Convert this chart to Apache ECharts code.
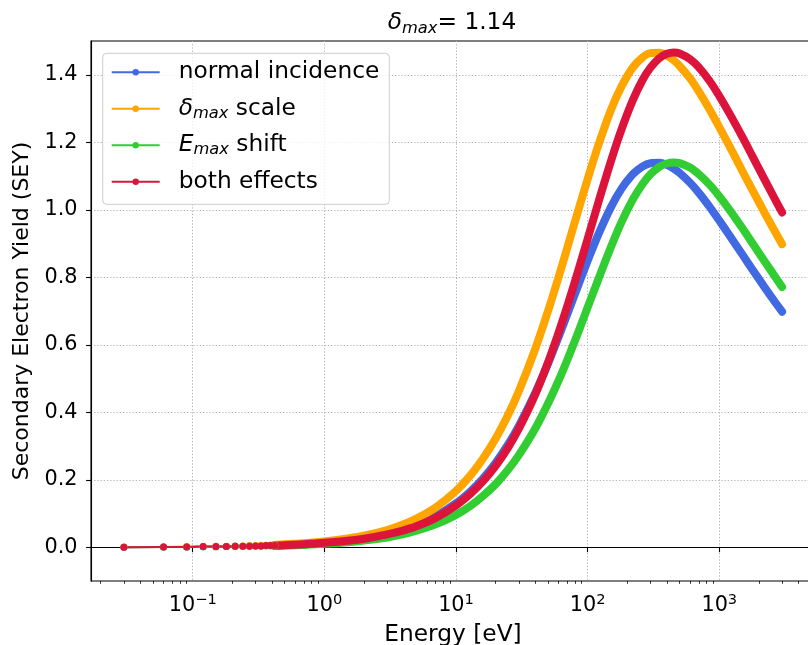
<!DOCTYPE html>
<html><head><meta charset="utf-8">
<script src="https://cdn.jsdelivr.net/npm/echarts@6/dist/echarts.min.js"></script>
<style>html,body{margin:0;padding:0;background:#fff}#c{width:808px;height:645px}</style>
</head><body><div id="c"></div>
<script>
// ---------------- data ----------------
const seriesNames = ['normal incidence', 'δmax scale', 'Emax shift', 'both effects'];
const seriesColors = ['#4169E1', '#FFA500', '#32CD32', '#DC143C'];

// first, sparse points at low energy (drawn as separate dots)
const lowEnergy = [0.03, 0.06, 0.09, 0.12, 0.15, 0.18, 0.21, 0.24, 0.27, 0.30, 0.33, 0.36, 0.39, 0.42];
const lowNormal = [0.000, 0.001, 0.001, 0.002, 0.002, 0.002, 0.003, 0.003, 0.004, 0.004, 0.004, 0.005, 0.005, 0.006];
const lowDmax   = [0.001, 0.001, 0.002, 0.002, 0.003, 0.003, 0.004, 0.004, 0.005, 0.005, 0.006, 0.006, 0.007, 0.007];
const lowEmax   = [0.000, 0.001, 0.001, 0.001, 0.001, 0.002, 0.002, 0.002, 0.003, 0.003, 0.003, 0.004, 0.004, 0.004];
const lowBoth   = [0.000, 0.001, 0.001, 0.002, 0.002, 0.002, 0.003, 0.003, 0.003, 0.004, 0.004, 0.005, 0.005, 0.005];

// dense part (markers merge into a thick band)
const energy = [0.42, 0.5, 0.7, 1, 1.5, 2, 3, 4, 5, 7, 10, 13, 16, 20, 25, 30, 40, 50, 60, 70, 85, 100, 120, 150, 180, 220, 260, 300, 350, 400, 450, 500, 600, 700, 850, 1000, 1200, 1500, 1800, 2200, 2600, 3000];
const seyNormal = [0.006, 0.007, 0.009, 0.013, 0.020, 0.027, 0.040, 0.053, 0.066, 0.092, 0.130, 0.167, 0.203, 0.250, 0.306, 0.359, 0.457, 0.544, 0.622, 0.690, 0.777, 0.849, 0.925, 1.007, 1.061, 1.105, 1.128, 1.138, 1.139, 1.133, 1.122, 1.109, 1.080, 1.050, 1.007, 0.968, 0.923, 0.867, 0.821, 0.771, 0.731, 0.698];
const seyDmax   = [0.007, 0.009, 0.012, 0.017, 0.026, 0.034, 0.051, 0.068, 0.085, 0.118, 0.167, 0.215, 0.262, 0.322, 0.394, 0.462, 0.588, 0.700, 0.799, 0.887, 0.999, 1.091, 1.189, 1.295, 1.364, 1.421, 1.451, 1.464, 1.465, 1.457, 1.443, 1.426, 1.389, 1.350, 1.295, 1.245, 1.187, 1.114, 1.056, 0.992, 0.941, 0.898];
const seyEmax   = [0.004, 0.005, 0.007, 0.010, 0.015, 0.020, 0.029, 0.039, 0.049, 0.068, 0.096, 0.124, 0.152, 0.187, 0.231, 0.273, 0.352, 0.426, 0.493, 0.555, 0.638, 0.711, 0.792, 0.889, 0.962, 1.030, 1.075, 1.105, 1.127, 1.137, 1.140, 1.138, 1.125, 1.105, 1.073, 1.040, 0.999, 0.945, 0.899, 0.848, 0.807, 0.771];
const seyBoth   = [0.005, 0.006, 0.009, 0.013, 0.019, 0.025, 0.038, 0.050, 0.062, 0.087, 0.124, 0.160, 0.195, 0.241, 0.297, 0.351, 0.453, 0.548, 0.635, 0.714, 0.821, 0.914, 1.019, 1.143, 1.236, 1.324, 1.383, 1.421, 1.449, 1.462, 1.466, 1.463, 1.446, 1.422, 1.380, 1.337, 1.284, 1.215, 1.156, 1.091, 1.037, 0.992];

// axes
const xTickValues = [0.1, 1, 10, 100, 1000];
const xTickExponents = ['\u22121', '0', '1', '2', '3'];
const xMinorTicks = [0.02, 0.03, 0.04, 0.05, 0.06, 0.07, 0.08, 0.09, 0.2, 0.3, 0.4, 0.5, 0.6, 0.7, 0.8, 0.9, 2, 3, 4, 5, 6, 7, 8, 9, 20, 30, 40, 50, 60, 70, 80, 90, 200, 300, 400, 500, 600, 700, 800, 900, 2000, 3000, 4000, 5000];
const yTickValues = [0, 0.2, 0.4, 0.6, 0.8, 1.0, 1.2, 1.4];
const yTickLabels = ['0.0', '0.2', '0.4', '0.6', '0.8', '1.0', '1.2', '1.4'];
const titleRich = '{i|δ}{s|max}{n|= 1.14}';
const xAxisName = 'Energy [eV]';
const yAxisName = 'Secondary Electron Yield (SEY)';
const legendRich = {'δmax scale': '{i|δ}{s|max} scale', 'Emax shift': '{i|E}{s|max} shift'};

// ---------------- chart ----------------
const FONT = 'DejaVu Sans';
const FT = 20.8;   // tick labels
const FL = 23.3;   // title, x name, legend
const FY = 22;     // y name
const lowSets = [lowNormal, lowDmax, lowEmax, lowBoth];
const bandSets = [seyNormal, seyDmax, seyEmax, seyBoth];
const series = [];
for (let i = 0; i < 4; i++) {
  series.push({
    name: seriesNames[i], type: 'line', xAxisIndex: 0, yAxisIndex: 0,
    data: lowEnergy.map((e, k) => [e, lowSets[i][k]]),
    symbol: 'circle', symbolSize: 7, showSymbol: true,
    lineStyle: {width: 2, color: seriesColors[i]},
    itemStyle: {color: seriesColors[i]},
    silent: true, animation: false, emphasis: {disabled: true}
  });
  series.push({
    name: seriesNames[i], type: 'line', xAxisIndex: 0, yAxisIndex: 0,
    data: energy.map((e, k) => [e, bandSets[i][k]]),
    symbol: 'none', smooth: 0.3,
    lineStyle: {width: 8, color: seriesColors[i], cap: 'round', join: 'round'},
    itemStyle: {color: seriesColors[i]},
    silent: true, animation: false, emphasis: {disabled: true}
  });
}

const chart = echarts.init(document.getElementById('c'), null, {renderer: 'canvas'});
chart.setOption({
  animation: false,
  backgroundColor: '#fff',
  title: {
    text: titleRich, left: 452, top: 9, textAlign: 'center', padding: 0,
    textStyle: {
      fontFamily: FONT, fontSize: FL, fontWeight: 'normal', color: '#000', lineHeight: 28,
      rich: {
        i: {fontFamily: FONT, fontSize: FL, fontStyle: 'italic', lineHeight: 28, color: '#000'},
        s: {fontFamily: FONT, fontSize: 16.3, fontStyle: 'italic', lineHeight: 16, verticalAlign: 'bottom', color: '#000'},
        n: {fontFamily: FONT, fontSize: FL, lineHeight: 28, color: '#000'}
      }
    }
  },
  legend: {
    data: seriesNames, orient: 'vertical', left: 102.7, top: 53.3,
    padding: [6.5, 10, 10, 8], itemGap: 11.5, itemWidth: 48, itemHeight: 8,
    backgroundColor: 'rgba(255,255,255,0.8)', borderColor: '#cccccc', borderWidth: 1, borderRadius: 4,
    selectedMode: false,
    lineStyle: {width: 2},
    formatter: name => legendRich[name] || name,
    textStyle: {
      fontFamily: FONT, fontSize: FL, color: '#000', lineHeight: 25, padding: [0, 0, 0, 14],
      rich: {
        i: {fontFamily: FONT, fontSize: FL, fontStyle: 'italic', lineHeight: 25, color: '#000'},
        s: {fontFamily: FONT, fontSize: 16.3, fontStyle: 'italic', lineHeight: 13, verticalAlign: 'bottom', color: '#000'}
      }
    }
  },
  grid: {left: 91, top: 41, width: 724, height: 540, show: true, borderColor: '#000', borderWidth: 1.1,
         backgroundColor: 'transparent', containLabel: false, outerBoundsMode: 'none'},
  xAxis: [{
    type: 'log', logBase: 10, min: 0.01687, max: 5335, position: 'bottom',
    axisLine: {show: true, lineStyle: {color: '#000', width: 1.1}},
    axisTick: {show: true, customValues: xTickValues, length: 4.9, inside: false, lineStyle: {color: '#000', width: 1.1}},
    minorTick: {show: false},
    axisLabel: {
      customValues: xTickValues, margin: 12, color: '#000', fontFamily: FONT, fontSize: FT, lineHeight: 25,
      formatter: v => {
        let idx = 0, best = Infinity;
        xTickValues.forEach((t, k) => { const d = Math.abs(Math.log10(t) - Math.log10(v)); if (d < best) { best = d; idx = k; } });
        return '{b|10}{p|' + xTickExponents[idx] + '}';
      },
      rich: {
        b: {fontFamily: FONT, fontSize: FT, lineHeight: 25, color: '#000'},
        p: {fontFamily: FONT, fontSize: 14.6, lineHeight: 16.6, verticalAlign: 'top', color: '#000'}
      }
    },
    splitLine: {show: true, lineStyle: {color: '#b0b0b0', width: 1, type: [1.2, 2]}},
    name: xAxisName, nameLocation: 'middle', nameGap: 42,
    nameTextStyle: {fontFamily: FONT, fontSize: FL, color: '#000'}
  }, {
    type: 'log', logBase: 10, min: 0.01687, max: 5335, position: 'bottom', gridIndex: 0,
    axisLine: {show: false},
    axisTick: {show: true, customValues: xMinorTicks, length: 2.8, inside: false, lineStyle: {color: '#000', width: 0.8}},
    axisLabel: {show: false},
    splitLine: {show: false}
  }],
  yAxis: {
    type: 'value', min: -0.1, max: 1.5, splitNumber: 8,
    axisLine: {show: true, lineStyle: {color: '#000', width: 1.1}},
    axisTick: {show: true, customValues: yTickValues, length: 4.9, inside: false, lineStyle: {color: '#000', width: 1.1}},
    axisLabel: {
      customValues: yTickValues, margin: 13.5, color: '#000', fontFamily: FONT, fontSize: FT,
      formatter: v => { const k = yTickValues.findIndex(t => Math.abs(t - v) < 1e-6); return k >= 0 ? yTickLabels[k] : ''; }
    },
    splitLine: {show: true, lineStyle: {color: '#b0b0b0', width: 1, type: [1.2, 2]}},
    name: yAxisName, nameLocation: 'middle', nameGap: 57, nameRotate: 90,
    nameTextStyle: {fontFamily: FONT, fontSize: FY, color: '#000'}
  },
  series: series
});
</script></body></html>
